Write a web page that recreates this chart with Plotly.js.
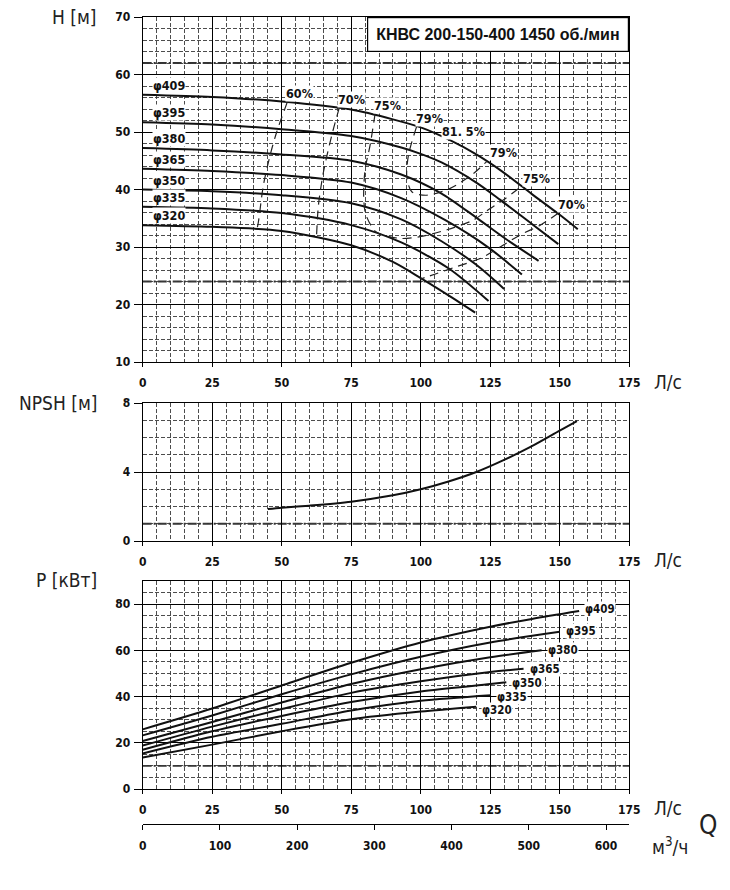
<!DOCTYPE html>
<html>
<head>
<meta charset="utf-8">
<script src="https://cdn.plot.ly/plotly-3.0.1.min.js"></script>
<style>
body { margin: 0; background: #fff; }
#chart { width: 730px; height: 890px; }
</style>
</head>
<body>
<div id="chart"></div>
<script>
// Impeller diameters (same order in all three charts)
var diameters = ['φ409', 'φ395', 'φ380', 'φ365', 'φ350', 'φ335', 'φ320'];

// H(Q) curves, Q in l/s, H in m
var headQ = [
    [0, 25, 50, 75, 90, 100, 110, 120, 130, 140, 150, 156.5],
    [0, 25, 50, 75, 93, 100, 107.5, 120, 128.6, 140, 149.5],
    [0, 25, 50, 75, 93, 107.5, 120, 130, 142.4],
    [0, 25, 50, 75, 93, 108.7, 124.4, 136.4],
    [0, 25, 50, 75, 93, 107.5, 120, 130],
    [0, 25, 50, 75, 93, 110, 124.4],
    [0, 25, 50, 75, 90, 100, 110, 119.6]
];
var headH = [
    [56.5, 56.1, 55.3, 53.9, 52.2, 50.8, 48.7, 46.1, 42.9, 39.2, 35.6, 33.1],
    [51.7, 51.3, 50.5, 49.3, 47.3, 46.2, 44.7, 41.2, 38.2, 34.0, 30.5],
    [47.2, 46.8, 46.1, 45.0, 42.6, 39.3, 35.1, 31.6, 27.6],
    [43.6, 43.2, 42.5, 41.2, 38.5, 34.7, 29.9, 25.2],
    [40.0, 39.7, 39.0, 37.6, 34.8, 31.0, 26.9, 22.7],
    [37.0, 36.7, 35.9, 33.8, 30.8, 26.3, 20.6],
    [33.8, 33.5, 32.8, 30.3, 27.4, 24.6, 21.6, 18.6]
];

// Efficiency iso-lines (first/last point lies on the φ409 curve)
var effNames = ['60%', '70%', '75%', '79%', '70%'];
var effQ = [
    [52, 48.2, 45.8, 43.4, 41.6, 41.0],
    [70.7, 68, 65, 63.2, 62.5],
    [83.6, 81.8, 80, 79.5, 80.3, 84, 92.6, 99.8, 109.4, 119, 123.8, 129.8, 135.8],
    [98.5, 95.6, 95, 96.8, 102, 110.6, 119, 123.8],
    [149.6, 143, 135.8, 128.6, 121.4, 113, 105.8, 99.8]
];
var effH = [
    [55.2, 50, 45.9, 40.7, 34.3, 32.9],
    [54.2, 49.4, 43, 37.2, 31.5],
    [53.2, 47.7, 43.5, 38.5, 35.6, 32.6, 31.5, 31.8, 33, 34.7, 36.3, 38.2, 40.4],
    [50.9, 46, 42.2, 39.6, 39, 40.2, 42.8, 44.9],
    [35.9, 33.8, 32.1, 30, 28, 26.6, 25.4, 24.4]
];
// closed loops carry a label at both ends
var effLoop = [false, false, true, true, false];
var bepQ = 107, bepH = 49.6, bepName = '81. 5%';

// NPSH required
var npshQ = [45, 50, 60, 75, 90, 100, 110, 120, 130, 140, 150, 156.2];
var npshH = [1.85, 1.93, 2.05, 2.28, 2.65, 3.0, 3.45, 4.0, 4.7, 5.5, 6.4, 6.95];

// Power P(Q), kW
var powerQ = [
    [0, 25, 50, 75, 100, 125, 140, 157],
    [0, 25, 50, 75, 100, 125, 150],
    [0, 25, 50, 75, 100, 125, 143.5],
    [0, 25, 50, 75, 100, 125, 137],
    [0, 25, 50, 75, 100, 125, 130.8],
    [0, 25, 50, 75, 100, 125.3],
    [0, 25, 50, 75, 100, 120]
];
var powerP = [
    [25.8, 34.8, 44.8, 54.6, 63.4, 70.2, 73.6, 77.0],
    [23.2, 31.8, 41.0, 49.6, 57.2, 63.4, 68.0],
    [20.8, 29.0, 37.4, 45.4, 51.8, 57.0, 60.0],
    [18.8, 27.0, 34.6, 41.6, 46.6, 50.6, 52.0],
    [17.0, 25.0, 31.6, 37.6, 42.2, 45.4, 46.2],
    [15.4, 22.6, 28.2, 34.0, 38.2, 40.6],
    [13.6, 19.2, 25.0, 30.2, 33.5, 35.6]
];

// dash-dot limit lines
var headLimits = [62, 24];
var npshLimits = [1];
var powerLimits = [10];

var flowTicks = [0, 25, 50, 75, 100, 125, 150, 175];
var cubicTicks = [0, 100, 200, 300, 400, 500, 600];

var title = 'КНВС 200-150-400 1450 об./мин';

// ---------------------------------------------------------------
var TICK_FONT = {family: '"DejaVu Sans Condensed", "Liberation Sans Narrow", Arial, sans-serif', size: 12, weight: 'bold', color: '#111'};
var UNIT_FONT = {family: '"DejaVu Sans Condensed", "Noto Sans", sans-serif', size: 19, color: '#222'};
var LABEL_FONT = {family: '"DejaVu Sans Condensed", Arial, sans-serif', size: 12.5, weight: 'bold', color: '#111'};
var POWER_LABEL_FONT = {family: LABEL_FONT.family, size: 11.5, weight: 'bold', color: '#111'};

var W = 730, H = 890;
function px2x(p) { return p / W; }
function px2y(p) { return 1 - p / H; }

var xDomain = [px2x(142.7), px2x(629.2)];
var MINOR = {showgrid: true, gridcolor: '#3a3a3a', gridwidth: 0.9, griddash: '4px,2px'};

function flowAxis(anchor) {
    return {
        domain: xDomain, anchor: anchor, range: [0, 175],
        tickvals: flowTicks, ticks: 'outside', ticklen: 4, tickcolor: '#000',
        tickfont: TICK_FONT, ticklabelstandoff: 6,
        showline: true, linecolor: '#000', linewidth: 1, mirror: true,
        showgrid: true, gridcolor: '#000', gridwidth: 1, zeroline: false,
        minor: Object.assign({dtick: 5, tick0: 0}, MINOR)
    };
}
function valueAxis(anchor, domain, range, dtick, minorDtick) {
    return {
        domain: domain, anchor: anchor, range: range,
        dtick: dtick, tick0: 0, ticks: 'outside', ticklen: 8, tickcolor: '#000',
        tickfont: TICK_FONT, ticklabelstandoff: 1,
        showline: true, linecolor: '#000', linewidth: 1, mirror: true,
        showgrid: true, gridcolor: '#000', gridwidth: 1, zeroline: false,
        minor: Object.assign({dtick: minorDtick, tick0: 0}, MINOR)
    };
}

var data = [];
var annotations = [];
var shapes = [];

var CURVE = {color: '#111', width: 2, shape: 'spline', smoothing: 0.8};

// head curves
diameters.forEach(function (d, i) {
    data.push({
        x: headQ[i], y: headH[i], xaxis: 'x', yaxis: 'y',
        type: 'scatter', mode: 'lines', line: CURVE, hoverinfo: 'skip'
    });
    annotations.push({
        xref: 'x', yref: 'y', x: headQ[i][0], y: headH[i][0],
        xanchor: 'left', yanchor: 'bottom', xshift: 9, yshift: 1,
        text: d, showarrow: false, font: LABEL_FONT, bgcolor: '#fff', borderpad: 0
    });
});

// efficiency lines
effNames.forEach(function (n, i) {
    var q = effQ[i], h = effH[i];
    data.push({
        x: q, y: h, xaxis: 'x', yaxis: 'y',
        type: 'scatter', mode: 'lines',
        line: {color: '#222', width: 1.2, dash: '9px,6px', shape: 'spline', smoothing: 0.8},
        hoverinfo: 'skip'
    });
    annotations.push({
        xref: 'x', yref: 'y', x: q[0], y: h[0], xanchor: 'left', yanchor: 'bottom',
        xshift: -2, text: n, showarrow: false, font: LABEL_FONT, bgcolor: '#fff', borderpad: 0
    });
    if (effLoop[i]) {
        var k = q.length - 1;
        annotations.push({
            xref: 'x', yref: 'y', x: q[k], y: h[k], xanchor: 'left', yanchor: 'bottom',
            xshift: 2, text: n, showarrow: false, font: LABEL_FONT, bgcolor: '#fff', borderpad: 0
        });
    }
});
annotations.push({
    xref: 'x', yref: 'y', x: bepQ, y: bepH, xanchor: 'left', yanchor: 'bottom',
    xshift: 1, yshift: -6, text: bepName, showarrow: false, font: LABEL_FONT, bgcolor: '#fff', borderpad: 0
});

// NPSH
data.push({
    x: npshQ, y: npshH, xaxis: 'x2', yaxis: 'y2',
    type: 'scatter', mode: 'lines', line: CURVE, hoverinfo: 'skip'
});

// power curves, labels at the curve ends fanned slightly apart
diameters.forEach(function (d, i) {
    var q = powerQ[i], p = powerP[i], k = q.length - 1;
    data.push({
        x: q, y: p, xaxis: 'x3', yaxis: 'y3',
        type: 'scatter', mode: 'lines', line: CURVE, hoverinfo: 'skip'
    });
    annotations.push({
        xref: 'x3', yref: 'y3', x: q[k], y: p[k], xanchor: 'left', yanchor: 'middle',
        xshift: 5, yshift: 2 - i * 0.8, text: d, showarrow: false, font: POWER_LABEL_FONT,
        bgcolor: '#fff', borderpad: 0
    });
});

// second flow scale in m3/h
data.push({
    x: [0, 630], y: [0, 0], xaxis: 'x4', yaxis: 'y3',
    type: 'scatter', mode: 'lines', line: {width: 0}, hoverinfo: 'skip', showlegend: false
});

// limit lines
function limitLine(yref, xref, v) {
    return {
        type: 'line', xref: xref + ' domain', x0: 0, x1: 1, yref: yref, y0: v, y1: v,
        line: {color: '#333', width: 1.8, dash: '9px,2px,2px,2px'}, layer: 'below'
    };
}
headLimits.forEach(function (v) { shapes.push(limitLine('y', 'x', v)); });
npshLimits.forEach(function (v) { shapes.push(limitLine('y2', 'x2', v)); });
powerLimits.forEach(function (v) { shapes.push(limitLine('y3', 'x3', v)); });

// title box
annotations.push({
    xref: 'x domain', yref: 'y domain', x: 1, y: 1, xanchor: 'right', yanchor: 'top',
    text: title, showarrow: false, bgcolor: '#fff', bordercolor: '#000', borderwidth: 1.2, borderpad: 8,
    font: {family: '"Liberation Sans", Arial, sans-serif', size: 16, weight: 'bold', color: '#111'}
});

// axis captions
function caption(text, xpx, ypx, anchor, font) {
    annotations.push({
        xref: 'paper', yref: 'paper', x: px2x(xpx), y: px2y(ypx), xanchor: anchor, yanchor: 'middle',
        text: text, showarrow: false, font: font || UNIT_FONT
    });
}
caption('H [м]', 99, 17, 'right');
caption('NPSH [м]', 99, 403, 'right');
caption('P [кВт]', 99, 580, 'right');
caption('Л/с', 652, 382, 'left');
caption('Л/с', 652, 560, 'left');
caption('Л/с', 652, 808, 'left');
caption('м<sup>3</sup>/ч', 650, 846, 'left');
caption('Q', 697, 825, 'left', {family: UNIT_FONT.family, size: 26, color: '#222'});

var x4 = {
    domain: xDomain, anchor: 'free', position: px2y(824), overlaying: 'x3', side: 'bottom',
    range: [0, 630], tickvals: cubicTicks, ticks: 'outside', ticklen: 5, tickcolor: '#000',
    tickfont: TICK_FONT, ticklabelstandoff: 6,
    showline: true, linecolor: '#000', linewidth: 1, showgrid: false, zeroline: false
};

var layout = {
    width: W, height: H,
    margin: {l: 0, r: 0, t: 0, b: 0},
    paper_bgcolor: '#fff', plot_bgcolor: '#fff',
    showlegend: false, hovermode: false,
    xaxis: flowAxis('y'),
    yaxis: valueAxis('x', [px2y(362), px2y(17)], [10, 70], 10, 2),
    xaxis2: flowAxis('y2'),
    yaxis2: valueAxis('x2', [px2y(541), px2y(403)], [0, 8], 4, 1),
    xaxis3: flowAxis('y3'),
    yaxis3: valueAxis('x3', [px2y(789), px2y(581)], [0, 90], 20, 5),
    xaxis4: x4,
    annotations: annotations,
    shapes: shapes
};

Plotly.newPlot('chart', data, layout, {staticPlot: true, displayModeBar: false});
</script>
</body>
</html>
